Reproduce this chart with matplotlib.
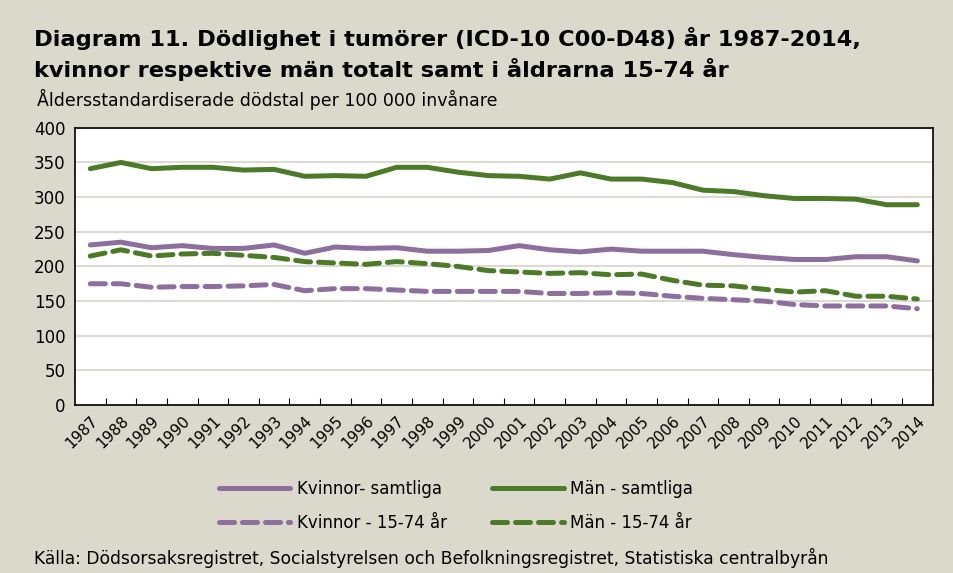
import matplotlib
matplotlib.use("Agg")
import matplotlib.pyplot as plt
from matplotlib.ticker import FixedLocator

# ---- data ----
years = [str(y) for y in range(1987, 2015)]

man_samtliga = [341, 350, 341, 343, 343, 339, 340, 330, 331, 330, 343, 343, 336, 331,
                330, 326, 335, 326, 326, 321, 310, 308, 302, 298, 298, 297, 289, 289]
kvinnor_samtliga = [231, 235, 227, 230, 226, 226, 231, 219, 228, 226, 227, 222, 222, 223,
                    230, 224, 221, 225, 222, 222, 222, 217, 213, 210, 210, 214, 214, 208]
man_1574 = [215, 224, 215, 218, 219, 216, 213, 207, 205, 203, 207, 204, 200, 194,
            192, 190, 191, 188, 189, 180, 173, 172, 167, 163, 165, 157, 157, 153]
kvinnor_1574 = [175, 175, 170, 171, 171, 172, 174, 165, 168, 168, 166, 164, 164, 164,
                164, 161, 161, 162, 161, 157, 154, 152, 150, 145, 143, 143, 143, 139]

# ---- style ----
BG = "#dbd8cc"
GREEN = "#4d7a29"
PURPLE = "#8d6e9c"
GRID = "#dcdad2"

plt.rcParams['font.family'] = ['DejaVu Sans']

fig = plt.figure(figsize=(9.54, 5.73), dpi=100, facecolor=BG)
ax = fig.add_axes([0.0786, 0.293, 0.899, 0.484])
ax.set_facecolor("white")

x = list(range(len(years)))
lw = 3.6
dash = (0, (3.0, 1.6))

l1, = ax.plot(x, kvinnor_samtliga, color=PURPLE, lw=lw, label="Kvinnor- samtliga",
              solid_capstyle="round", solid_joinstyle="round")
l2, = ax.plot(x, kvinnor_1574, color=PURPLE, lw=lw, linestyle=dash, label="Kvinnor - 15-74 år",
              dash_capstyle="round")
l3, = ax.plot(x, man_samtliga, color=GREEN, lw=lw, label="Män - samtliga",
              solid_capstyle="round", solid_joinstyle="round")
l4, = ax.plot(x, man_1574, color=GREEN, lw=lw, linestyle=dash, label="Män - 15-74 år",
              dash_capstyle="round")

ax.set_xlim(-0.5, len(years) - 0.5)
ax.set_ylim(0, 400)
ax.set_yticks(range(0, 401, 50))
ax.tick_params(axis="y", length=0, labelsize=12, pad=7)
ax.grid(axis="y", color=GRID, lw=1.5)
ax.set_axisbelow(True)

ax.set_xticks(x)
ax.set_xticklabels(years, rotation=45, ha="right", rotation_mode="anchor", fontsize=11)
ax.tick_params(axis="x", which="major", length=0, pad=6)
ax.xaxis.set_minor_locator(FixedLocator([i + 0.5 for i in x[:-1]]))
ax.tick_params(axis="x", which="minor", direction="in", length=5, color="black", width=0.8)

for s in ax.spines.values():
    s.set_color("black")
    s.set_linewidth(1.2)

# ---- text ----
fig.text(0.036, 0.932, "Diagram 11. Dödlighet i tumörer (ICD-10 C00-D48) år 1987-2014,",
         fontsize=16.2, fontweight="bold", va="center")
fig.text(0.036, 0.878, "kvinnor respektive män totalt samt i åldrarna 15-74 år",
         fontsize=16.2, fontweight="bold", va="center")
fig.text(0.039, 0.826, "Åldersstandardiserade dödstal per 100 000 invånare", fontsize=12.5, va="center")
fig.text(0.036, 0.027, "Källa: Dödsorsaksregistret, Socialstyrelsen och Befolkningsregistret, Statistiska centralbyrån",
         fontsize=12.3, va="center")

fig.legend([l1, l2, l3, l4], [h.get_label() for h in (l1, l2, l3, l4)],
           ncol=2, loc="center", bbox_to_anchor=(0.478, 0.117), frameon=False,
           fontsize=12, handlelength=4.3, columnspacing=2.7, labelspacing=1.0, handletextpad=0.4)

fig.savefig("out.png", dpi=100, facecolor=BG)
